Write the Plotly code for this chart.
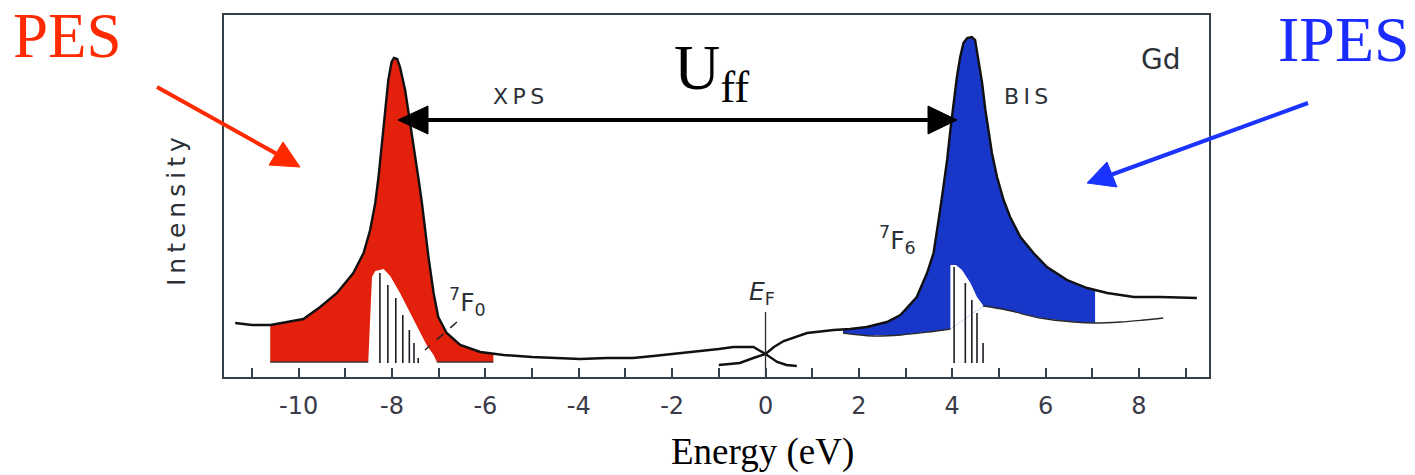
import numpy as np
import plotly.graph_objects as go

# ---------------------------------------------------------------- data
# XPS (occupied 4f) spectrum of Gd, intensity in arbitrary units
xps_energy = [-11.36, -11.0, -10.6, -10.2, -9.9, -9.54, -9.18, -8.83, -8.61, -8.47,
              -8.36, -8.29, -8.22, -8.15, -8.08, -8.01, -7.96, -7.89, -7.83, -7.72,
              -7.61, -7.51, -7.43, -7.36, -7.29, -7.22, -7.11, -7.01, -6.83, -6.54,
              -6.11, -5.61, -5.0, -4.4, -3.97, -3.4, -2.84, -2.4, -1.98, -1.4,
              -1.0, -0.69, -0.26, 0.0, 0.25, 0.45, 0.67]
xps_intensity = [54, 52, 52, 55, 58, 70, 84, 104, 124, 147,
                 174, 200, 234, 267, 297, 315, 319, 318, 310, 287,
                 254, 220, 197, 174, 147, 120, 84, 60, 44, 32,
                 25, 22, 20, 19, 18, 19, 19, 21, 23, 26,
                 28, 30, 30, 23, 15, 12, 11]

# BIS (unoccupied 4f) spectrum of Gd
bis_energy = [-1.0, -0.55, -0.26, 0.0, 0.18, 0.39, 0.89, 1.46, 1.81, 2.17,
              2.6, 2.89, 3.24, 3.46, 3.60, 3.67, 3.74, 3.81, 3.89, 3.96,
              4.03, 4.10, 4.17, 4.24, 4.32, 4.42, 4.49, 4.56, 4.64, 4.71,
              4.78, 4.85, 4.96, 5.10, 5.24, 5.46, 5.74, 6.03, 6.46, 6.89,
              7.32, 7.89, 8.46, 9.24]
bis_intensity = [12, 14, 19, 23, 30, 36, 44, 47, 48, 50,
                 55, 62, 80, 104, 124, 144, 167, 190, 217, 247,
                 274, 300, 320, 334, 339, 340, 337, 317, 294, 267,
                 244, 224, 200, 177, 160, 140, 124, 110, 97, 89,
                 84, 80, 80, 79]

# background under the BIS peak
bis_bg_energy = [1.66, 2.3, 2.9, 3.5, 3.96, 4.67, 5.17, 5.88, 6.6, 7.06, 7.6, 8.1, 8.52]
bis_bg_intensity = [44, 41, 42, 45, 48, 71, 67, 59, 55, 54, 55, 57, 59]

# baseline under the XPS peak
xps_baseline = 15

# shaded windows
xps_fill_window = [-10.61, -5.83]
bis_fill_window = [1.66, 7.06]

# calculated multiplet envelopes (left blank inside the shading)
xps_env_energy = [-8.51, -8.43, -8.36, -8.18, -8.04, -7.83, -7.61, -7.40, -7.26, -7.11, -7.04]
xps_env_intensity = [15, 100, 106, 108, 101, 84, 64, 45, 32, 22, 15]
bis_env_energy = [3.96, 3.96, 4.08, 4.21, 4.39, 4.53, 4.67]
bis_env_intensity = [48, 112, 112, 107, 94, 80, 71]

# multiplet line spectra: 7F0 final state (XPS) and 7F6 (BIS)
xps_stick_energy = [-8.26, -8.09, -7.92, -7.77, -7.63, -7.53, -7.44]
xps_stick_height = [104, 92, 79, 62, 47, 34, 19]
bis_stick_energy = [4.04, 4.28, 4.42, 4.53, 4.66]
bis_stick_height = [110, 94, 77, 64, 34]
stick_base = 14

# Fermi level marker
ef_energy = 0.0
ef_top = 65

# axis ticks: labelled every 2 eV, unlabelled marks in between
tick_values = [-10, -8, -6, -4, -2, 0, 2, 4, 6, 8]
tick_labels = ["-10", "-8", "-6", "-4", "-2", "0", "2", "4", "6", "8"]
minor_tick_values = [-11, -9, -7, -5, -3, -1, 1, 3, 5, 7, 9]

# ---------------------------------------------------------------- layout
W, H = 1415, 475
ML, MR, MT, MB = 224, 206, 15, 98
PW, PH = W - ML - MR, H - MT - MB
X_RANGE = [-11.6, 9.5]
Y_RANGE = [0, PH]

RED_FILL = "#e2200c"
BLUE_FILL = "#1836c8"
INK = "#111111"
FRAME = "#34404c"
LABEL = "#2c3138"


def px(x):
    return (x - ML) / PW


def py(y):
    return (MT + PH - y) / PH


fig = go.Figure()

# red shading under the XPS peak
e = np.array(xps_energy)
i = np.array(xps_intensity)
lo, hi = xps_fill_window
inner = (e > lo) & (e < hi)
top_e = np.concatenate([[lo], e[inner], [hi]])
top_i = np.concatenate([[np.interp(lo, e, i)], i[inner], [np.interp(hi, e, i)]])
poly_e = np.concatenate([top_e, top_e[::-1]])
poly_i = np.concatenate([top_i, np.full(len(top_e), xps_baseline)])
fig.add_trace(go.Scatter(x=poly_e, y=poly_i, fill="toself", fillcolor=RED_FILL,
                         mode="lines", line=dict(width=0), hoverinfo="skip"))

# blue shading under the BIS peak
e = np.array(bis_energy)
i = np.array(bis_intensity)
lo, hi = bis_fill_window
inner = (e > lo) & (e < hi)
top_e = np.concatenate([[lo], e[inner], [hi]])
top_i = np.concatenate([[np.interp(lo, e, i)], i[inner], [np.interp(hi, e, i)]])
bot_i = np.interp(top_e, bis_bg_energy, bis_bg_intensity)
poly_e = np.concatenate([top_e, top_e[::-1]])
poly_i = np.concatenate([top_i, bot_i[::-1]])
fig.add_trace(go.Scatter(x=poly_e, y=poly_i, fill="toself", fillcolor=BLUE_FILL,
                         mode="lines", line=dict(width=0), hoverinfo="skip"))

# blank multiplet envelopes
for ee, ii in ((xps_env_energy, xps_env_intensity), (bis_env_energy, bis_env_intensity)):
    fig.add_trace(go.Scatter(x=ee, y=ii, fill="toself", fillcolor="white",
                             mode="lines", line=dict(width=0), hoverinfo="skip"))

# baselines
base_e = [xps_fill_window[0], xps_env_energy[0], None, xps_env_energy[-1], xps_fill_window[1]]
base_i = [xps_baseline, xps_baseline, None, xps_baseline, xps_baseline]
fig.add_trace(go.Scatter(x=base_e, y=base_i, mode="lines",
                         line=dict(color="#3a3030", width=1.3), hoverinfo="skip"))
bg_e, bg_i = [], []
for ee, ii in zip(bis_bg_energy, bis_bg_intensity):
    if ee == bis_env_energy[-1]:
        bg_e.append(None)
        bg_i.append(None)
    bg_e.append(ee)
    bg_i.append(ii)
fig.add_trace(go.Scatter(x=bg_e, y=bg_i, mode="lines",
                         line=dict(color="#2a2a2a", width=1.3, shape="spline"),
                         hoverinfo="skip", connectgaps=False))

# multiplet sticks
for se, sh in ((xps_stick_energy, xps_stick_height), (bis_stick_energy, bis_stick_height)):
    xs, ys = [], []
    for ee, hh in zip(se, sh):
        xs += [ee, ee, None]
        ys += [stick_base, hh, None]
    fig.add_trace(go.Scatter(x=xs, y=ys, mode="lines",
                             line=dict(color="#1c1c24", width=1.6), hoverinfo="skip"))

# measured spectra
fig.add_trace(go.Scatter(x=xps_energy, y=xps_intensity, mode="lines",
                         line=dict(color=INK, width=2.4), hoverinfo="skip"))
fig.add_trace(go.Scatter(x=bis_energy, y=bis_intensity, mode="lines",
                         line=dict(color=INK, width=2.4), hoverinfo="skip"))

# Fermi level
fig.add_trace(go.Scatter(x=[ef_energy, ef_energy], y=[0, ef_top], mode="lines",
                         line=dict(color="#2a2a2a", width=1.3), hoverinfo="skip"))


# ---------------------------------------------------------------- arrows
def arrow(tail, tip, side_a, side_b, color, width):
    base = ((side_a[0] + side_b[0]) / 2, (side_a[1] + side_b[1]) / 2)
    fig.add_shape(type="line", xref="paper", yref="paper",
                  x0=px(tail[0]), y0=py(tail[1]), x1=px(base[0]), y1=py(base[1]),
                  line=dict(color=color, width=width))
    path = "M {},{} L {},{} L {},{} Z".format(px(tip[0]), py(tip[1]),
                                              px(side_a[0]), py(side_a[1]),
                                              px(side_b[0]), py(side_b[1]))
    fig.add_shape(type="path", xref="paper", yref="paper", path=path,
                  fillcolor=color, line=dict(color=color, width=1))


arrow((157, 87), (300, 167), (269, 165), (283, 142), "#ff2a00", 4)
arrow((1308, 103), (1087, 183), (1117, 187), (1107, 162), "#1a33ff", 4)

# U_ff double arrow
fig.add_shape(type="line", xref="paper", yref="paper",
              x0=px(425), y0=py(120), x1=px(931), y1=py(120),
              line=dict(color="black", width=4))
fig.add_shape(type="path", xref="paper", yref="paper",
              path="M {},{} L {},{} L {},{} Z".format(px(398), py(120), px(428), py(106),
                                                     px(428), py(134)),
              fillcolor="black", line=dict(color="black", width=1))
fig.add_shape(type="path", xref="paper", yref="paper",
              path="M {},{} L {},{} L {},{} Z".format(px(957), py(120), px(928), py(106),
                                                     px(928), py(134)),
              fillcolor="black", line=dict(color="black", width=1))


# ---------------------------------------------------------------- text
def label(text, x, y, size, color=LABEL, family="DejaVu Sans", angle=0):
    fig.add_annotation(text=text, xref="paper", yref="paper", x=px(x), y=py(y),
                       xanchor="center", yanchor="middle", showarrow=False,
                       textangle=angle, font=dict(size=size, color=color, family=family))


SERIF = "Liberation Serif"
label("PES", 67, 36, 63, "#ff2a00", SERIF)
label("IPES", 1344, 39, 64, "#1a2cff", SERIF)
label("U<sub>ff</sub>", 711, 72, 64, "black", SERIF)
label("Energy (eV)", 762, 452, 37, "black", SERIF)
label("X\u2009P\u2009S", 518, 97, 22)
label("B\u2009I\u2009S", 1026, 97, 22)
label("Gd", 1160, 59, 28)
label("<sup>7</sup>F<sub>0</sub>", 467, 302, 25)
label("<sup>7</sup>F<sub>6</sub>", 897, 240, 25)
label("<i>E</i><sub>F</sub>", 762, 293, 25)
label("I\u2009n\u2009t\u2009e\u2009n\u2009s\u2009i\u2009t\u2009y", 176, 212, 25, angle=-90)

# pointer from the 7F0 label
fig.add_shape(type="line", xref="paper", yref="paper",
              x0=px(457), y0=py(322), x1=px(425), y1=py(350),
              line=dict(color="#222", width=1.5, dash="dash"))

fig.update_layout(
    width=W, height=H, autosize=False,
    margin=dict(l=ML, r=MR, t=MT, b=MB),
    paper_bgcolor="white", plot_bgcolor="white",
    showlegend=False,
    xaxis=dict(range=X_RANGE, showgrid=False, zeroline=False,
               showline=True, mirror=True, linecolor=FRAME, linewidth=2,
               ticks="inside", ticklen=9, tickwidth=1.5, tickcolor=FRAME,
               tickmode="array", tickvals=tick_values, ticktext=tick_labels,
               ticklabelstandoff=6,
               minor=dict(tickmode="array", tickvals=minor_tick_values,
                          ticks="inside", ticklen=9, tickwidth=1.5, tickcolor=FRAME,
                          showgrid=False),
               tickfont=dict(size=24, color="#3a3a48", family="DejaVu Sans")),
    yaxis=dict(range=Y_RANGE, showgrid=False, zeroline=False,
               showline=True, mirror=True, linecolor=FRAME, linewidth=2,
               showticklabels=False, ticks=""),
)

fig.write_html("out.html")
